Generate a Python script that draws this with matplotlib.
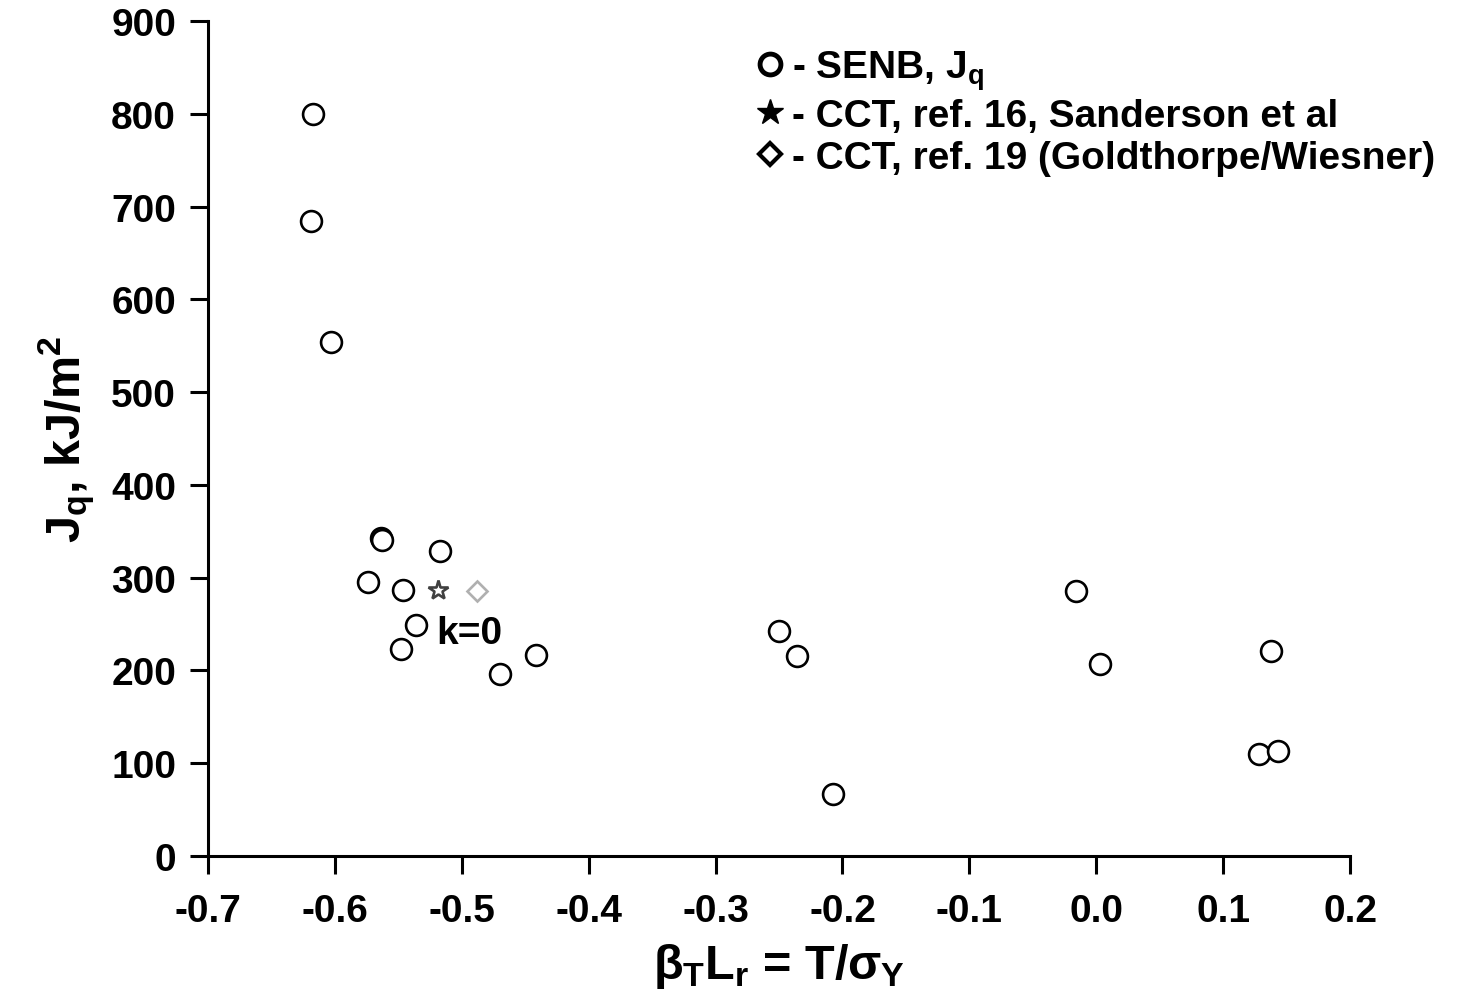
import numpy as np
import matplotlib.pyplot as plt
from matplotlib.lines import Line2D

plt.rcParams['font.family'] = ['Liberation Sans', 'DejaVu Sans']
plt.rcParams['font.weight'] = 'bold'
plt.rcParams['axes.labelweight'] = 'bold'
plt.rcParams['mathtext.fontset'] = 'custom'
plt.rcParams['mathtext.rm'] = 'Liberation Sans:bold'
plt.rcParams['mathtext.it'] = 'Liberation Sans:bold'
plt.rcParams['mathtext.bf'] = 'Liberation Sans:bold'

# SENB, Jq data
senb_x = [-0.617, -0.619, -0.603, -0.5640, -0.5625, -0.517, -0.574, -0.546, -0.536,
          -0.548, -0.470, -0.4415, -0.250, -0.236, -0.2075, -0.016, 0.003, 0.138,
          0.128, 0.143]
senb_y = [800, 684, 554, 343, 341, 329, 295, 287, 249, 223, 196, 217, 242, 216, 67,
          286, 207, 221, 110, 113]

# CCT, ref. 16
star_x = [-0.519]
star_y = [287]
# CCT, ref. 19
diam_x = [-0.488]
diam_y = [286]

xticks = [-0.7, -0.6, -0.5, -0.4, -0.3, -0.2, -0.1, 0.0, 0.1, 0.2]
xticklabels = ['-0.7', '-0.6', '-0.5', '-0.4', '-0.3', '-0.2', '-0.1', '0.0', '0.1', '0.2']
yticks = [0, 100, 200, 300, 400, 500, 600, 700, 800, 900]

fig = plt.figure(figsize=(14.61, 10.04), dpi=100)
ax = fig.add_axes([208/1461, 1-857/1004, (1350-208)/1461, (857-22)/1004])

ax.plot(senb_x, senb_y, 'o', ms=15, mfc='white', mec='black', mew=1.9, ls='none')
ax.plot(star_x, star_y, '*', ms=15, mfc='white', mec='#404040', mew=1.9, ls='none')
ax.plot(diam_x, diam_y, 'D', ms=10, mfc='white', mec='#b0b0b0', mew=1.9, ls='none')
ax.text(-0.494, 240, 'k=0', fontsize=28, fontweight='bold', ha='center', va='center')

ax.set_xlim(-0.7, 0.2)
ax.set_ylim(0, 900)
ax.set_xticks(xticks)
ax.set_xticklabels(xticklabels)
ax.set_yticks(yticks)
ax.spines['right'].set_color('none')
ax.spines['top'].set_color('none')
ax.spines['left'].set_linewidth(2.2)
ax.spines['bottom'].set_linewidth(2.2)
ax.tick_params(axis='x', length=13, width=2.2, pad=14, labelsize=28)
ax.tick_params(axis='y', length=13, width=2.2, pad=10, labelsize=28)

ax.set_xlabel(r'$\beta_T L_r$ = T/$\sigma_Y$', fontsize=35, labelpad=8)
ax.set_ylabel(r'J$_q$, kJ/m$^2$', fontsize=35, labelpad=10)

handles = [
    Line2D([], [], marker='o', ls='none', ms=15, mfc='white', mec='black', mew=3.5),
    Line2D([], [], marker='*', ls='none', ms=19, mfc='black', mec='black'),
    Line2D([], [], marker='D', ls='none', ms=11, mfc='white', mec='black', mew=3),
]
labels = ['- SENB, J$_q$', '- CCT, ref. 16, Sanderson et al',
          '- CCT, ref. 19 (Goldthorpe/Wiesner)']
ax.legend(handles, labels, loc='upper left', bbox_to_anchor=(0.455, 1.0),
          frameon=False, fontsize=28, handletextpad=0.15, handlelength=0.8,
          labelspacing=0.15, borderaxespad=0.3)

plt.savefig('out.png')
